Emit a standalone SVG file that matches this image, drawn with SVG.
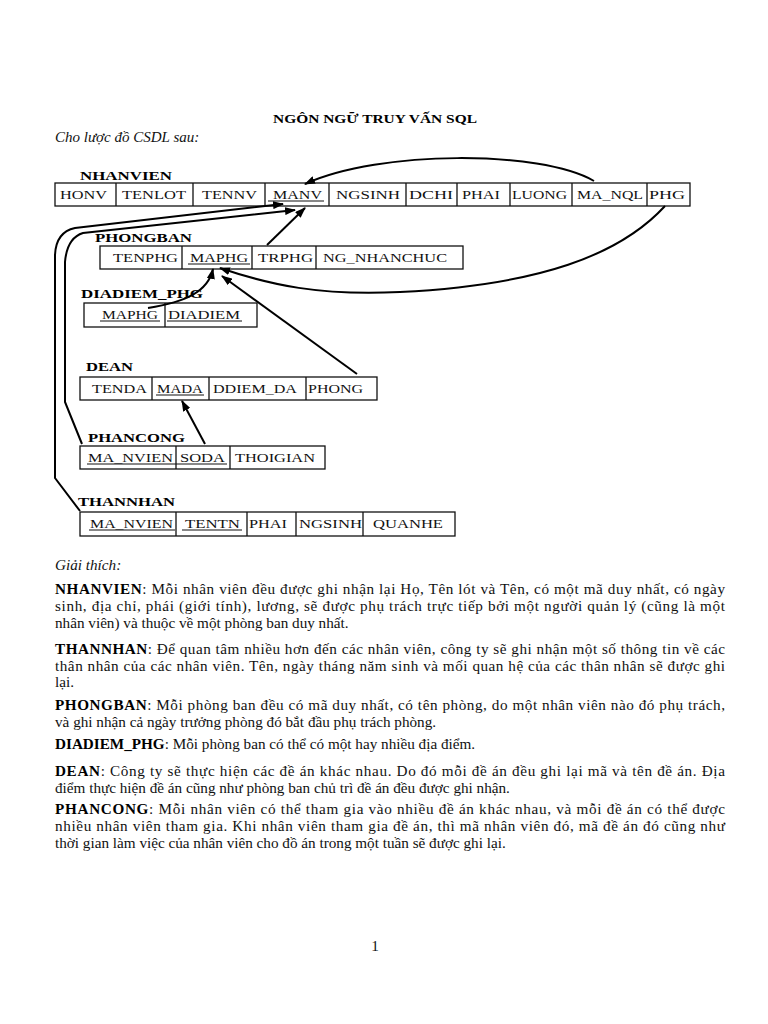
<svg xmlns="http://www.w3.org/2000/svg" width="768" height="1024" viewBox="0 0 768 1024">
<defs>
<marker id="ah" markerUnits="userSpaceOnUse" markerWidth="11" markerHeight="8" refX="10" refY="4" orient="auto"><path d="M0,0 L11,4 L0,8 z" fill="#000"/></marker>
<style>
.tb{fill:#fff;stroke:#111;stroke-width:1.3}
.dv{stroke:#111;stroke-width:1.3}
.f{font-family:"Liberation Serif","DejaVu Serif",serif;font-size:13px;fill:#111}
.lb{font-family:"Liberation Serif","DejaVu Serif",serif;font-size:13.5px;font-weight:bold;fill:#000}
.ul{stroke:#111;stroke-width:1}
.cn{fill:none;stroke:#000;stroke-width:2;marker-end:url(#ah)}
.p{font-family:"Liberation Serif","DejaVu Serif",serif;font-size:15.2px;fill:#111}
.b{font-weight:bold;fill:#000}
</style>
</defs>
<rect width="768" height="1024" fill="#fff"/>
<text x="375" y="123" text-anchor="middle" font-family="Liberation Serif, serif" font-size="13.5" font-weight="bold" textLength="204" lengthAdjust="spacingAndGlyphs">NGÔN NGỮ TRUY VẤN SQL</text>
<text x="55" y="142" font-family="Liberation Serif, serif" font-size="15" font-style="italic" fill="#111">Cho lược đồ CSDL sau:</text>

<g id="NHANVIEN">
<text class="lb" x="80" y="180" textLength="92" lengthAdjust="spacingAndGlyphs">NHANVIEN</text>
<rect class="tb" x="55" y="183" width="635" height="23"/>
<path class="dv" d="M116,183V206M193,183V206M265,183V206M329,183V206M406,183V206M457,183V206M510,183V206M572,183V206M647,183V206"/>
<text class="f" x="60" y="199" textLength="47" lengthAdjust="spacingAndGlyphs">HONV</text>
<text class="f" x="122" y="199" textLength="64" lengthAdjust="spacingAndGlyphs">TENLOT</text>
<text class="f" x="202" y="199" textLength="55" lengthAdjust="spacingAndGlyphs">TENNV</text>
<text class="f" x="273" y="199" textLength="49" lengthAdjust="spacingAndGlyphs">MANV</text>
<line class="ul" x1="268" y1="201" x2="324" y2="201"/>
<text class="f" x="336" y="199" textLength="64" lengthAdjust="spacingAndGlyphs">NGSINH</text>
<text class="f" x="409" y="199" textLength="44" lengthAdjust="spacingAndGlyphs">DCHI</text>
<text class="f" x="462" y="199" textLength="38" lengthAdjust="spacingAndGlyphs">PHAI</text>
<text class="f" x="512" y="199" textLength="55" lengthAdjust="spacingAndGlyphs">LUONG</text>
<text class="f" x="577" y="199" textLength="66" lengthAdjust="spacingAndGlyphs">MA_NQL</text>
<text class="f" x="649" y="199" textLength="36" lengthAdjust="spacingAndGlyphs">PHG</text>
</g>

<g id="PHONGBAN">
<text class="lb" x="95" y="242" textLength="97" lengthAdjust="spacingAndGlyphs">PHONGBAN</text>
<rect class="tb" x="100" y="246" width="363" height="23"/>
<path class="dv" d="M182,246V269M252,246V269M316,246V269"/>
<text class="f" x="113" y="262" textLength="65" lengthAdjust="spacingAndGlyphs">TENPHG</text>
<text class="f" x="190" y="262" textLength="58" lengthAdjust="spacingAndGlyphs">MAPHG</text>
<line class="ul" x1="188" y1="264" x2="250" y2="264"/>
<text class="f" x="258" y="262" textLength="55" lengthAdjust="spacingAndGlyphs">TRPHG</text>
<text class="f" x="323" y="262" textLength="124" lengthAdjust="spacingAndGlyphs">NG_NHANCHUC</text>
</g>

<g id="DIADIEM_PHG">
<text class="lb" x="81" y="298" textLength="122" lengthAdjust="spacingAndGlyphs">DIADIEM_PHG</text>
<rect class="tb" x="84" y="303" width="173" height="24"/>
<path class="dv" d="M165,303V327"/>
<text class="f" x="102" y="319" textLength="56" lengthAdjust="spacingAndGlyphs">MAPHG</text>
<text class="f" x="168" y="319" textLength="72" lengthAdjust="spacingAndGlyphs">DIADIEM</text>
<line class="ul" x1="100" y1="321" x2="160" y2="321"/>
<line class="ul" x1="167" y1="321" x2="242" y2="321"/>
</g>

<g id="DEAN">
<text class="lb" x="86" y="371" textLength="47" lengthAdjust="spacingAndGlyphs">DEAN</text>
<rect class="tb" x="80" y="377" width="297" height="23"/>
<path class="dv" d="M152,377V400M209,377V400M306,377V400"/>
<text class="f" x="92" y="393" textLength="55" lengthAdjust="spacingAndGlyphs">TENDA</text>
<text class="f" x="157" y="393" textLength="46" lengthAdjust="spacingAndGlyphs">MADA</text>
<line class="ul" x1="156" y1="395" x2="204" y2="395"/>
<text class="f" x="213" y="393" textLength="84" lengthAdjust="spacingAndGlyphs">DDIEM_DA</text>
<text class="f" x="308" y="393" textLength="55" lengthAdjust="spacingAndGlyphs">PHONG</text>
</g>

<g id="PHANCONG">
<text class="lb" x="88" y="442" textLength="97" lengthAdjust="spacingAndGlyphs">PHANCONG</text>
<rect class="tb" x="80" y="446" width="245" height="23"/>
<path class="dv" d="M176,446V469M230,446V469"/>
<text class="f" x="88" y="462" textLength="85" lengthAdjust="spacingAndGlyphs">MA_NVIEN</text>
<text class="f" x="180" y="462" textLength="45" lengthAdjust="spacingAndGlyphs">SODA</text>
<line class="ul" x1="87" y1="464" x2="227" y2="464"/>
<text class="f" x="235" y="462" textLength="80" lengthAdjust="spacingAndGlyphs">THOIGIAN</text>
</g>

<g id="THANNHAN">
<text class="lb" x="78" y="506" textLength="97" lengthAdjust="spacingAndGlyphs">THANNHAN</text>
<rect class="tb" x="80" y="512" width="375" height="24"/>
<path class="dv" d="M176,512V536M247,512V536M296,512V536M363,512V536"/>
<text class="f" x="90" y="528" textLength="83" lengthAdjust="spacingAndGlyphs">MA_NVIEN</text>
<text class="f" x="185" y="528" textLength="55" lengthAdjust="spacingAndGlyphs">TENTN</text>
<line class="ul" x1="89" y1="530" x2="175" y2="530"/>
<line class="ul" x1="182" y1="530" x2="242" y2="530"/>
<text class="f" x="249" y="528" textLength="38" lengthAdjust="spacingAndGlyphs">PHAI</text>
<text class="f" x="299" y="528" textLength="63" lengthAdjust="spacingAndGlyphs">NGSINH</text>
<text class="f" x="373" y="528" textLength="70" lengthAdjust="spacingAndGlyphs">QUANHE</text>
</g>

<g id="connectors">
<path class="cn" d="M594,181 C540,150 380,150 305,184"/>
<path class="cn" d="M665,206 C620,255 540,285 400,292 C320,296 270,285 220,268"/>
<path class="cn" d="M148,308 C185,302 208,292 213,269"/>
<path class="cn" d="M357,374 L222,276"/>
<path class="cn" d="M205,444 L182,401"/>
<path class="cn" d="M267,245 L305,208"/>
<path class="cn" d="M80,511 L55,478 L55,255 Q56,232 75,228 L283,204"/>
<path class="cn" d="M82,444 L65,402 L65,262 Q67,238 83,233 L295,210"/>
</g>

<text class="p" x="55" y="570" font-style="italic" font-size="14.5">Giải thích:</text>
<text class="p" x="55" y="594" textLength="670" lengthAdjust="spacing"><tspan class="b">NHANVIEN</tspan>: Mỗi nhân viên đều được ghi nhận lại Họ, Tên lót và Tên, có một mã duy nhất, có ngày</text>
<text class="p" x="55" y="611" textLength="670" lengthAdjust="spacing">sinh, địa chỉ, phái (giới tính), lương, sẽ được phụ trách trực tiếp bởi một người quản lý (cũng là một</text>
<text class="p" x="55" y="628">nhân viên) và thuộc về một phòng ban duy nhất.</text>
<text class="p" x="55" y="654" textLength="670" lengthAdjust="spacing"><tspan class="b">THANNHAN</tspan>: Để quan tâm nhiều hơn đến các nhân viên, công ty sẽ ghi nhận một số thông tin về các</text>
<text class="p" x="55" y="671" textLength="670" lengthAdjust="spacing">thân nhân của các nhân viên. Tên, ngày tháng năm sinh và mối quan hệ của các thân nhân sẽ được ghi</text>
<text class="p" x="55" y="687">lại.</text>
<text class="p" x="55" y="710" textLength="670" lengthAdjust="spacing"><tspan class="b">PHONGBAN</tspan>: Mỗi phòng ban đều có mã duy nhất, có tên phòng, do một nhân viên nào đó phụ trách,</text>
<text class="p" x="55" y="727">và ghi nhận cả ngày trưởng phòng đó bắt đầu phụ trách phòng.</text>
<text class="p" x="55" y="749"><tspan class="b">DIADIEM_PHG</tspan>: Mỗi phòng ban có thể có một hay nhiều địa điểm.</text>
<text class="p" x="55" y="776" textLength="670" lengthAdjust="spacing"><tspan class="b">DEAN</tspan>: Công ty sẽ thực hiện các đề án khác nhau. Do đó mỗi đề án đều ghi lại mã và tên đề án. Địa</text>
<text class="p" x="55" y="793">điểm thực hiện đề án cũng như phòng ban chủ trì đề án đều được ghi nhận.</text>
<text class="p" x="55" y="814" textLength="670" lengthAdjust="spacing"><tspan class="b">PHANCONG</tspan>: Mỗi nhân viên có thể tham gia vào nhiều đề án khác nhau, và mỗi đề án có thể được</text>
<text class="p" x="55" y="831" textLength="670" lengthAdjust="spacing">nhiều nhân viên tham gia. Khi nhân viên tham gia đề án, thì mã nhân viên đó, mã đề án đó cũng như</text>
<text class="p" x="55" y="848">thời gian làm việc của nhân viên cho đồ án trong một tuần sẽ được ghi lại.</text>
<text class="p" x="375" y="951" text-anchor="middle">1</text>
</svg>
